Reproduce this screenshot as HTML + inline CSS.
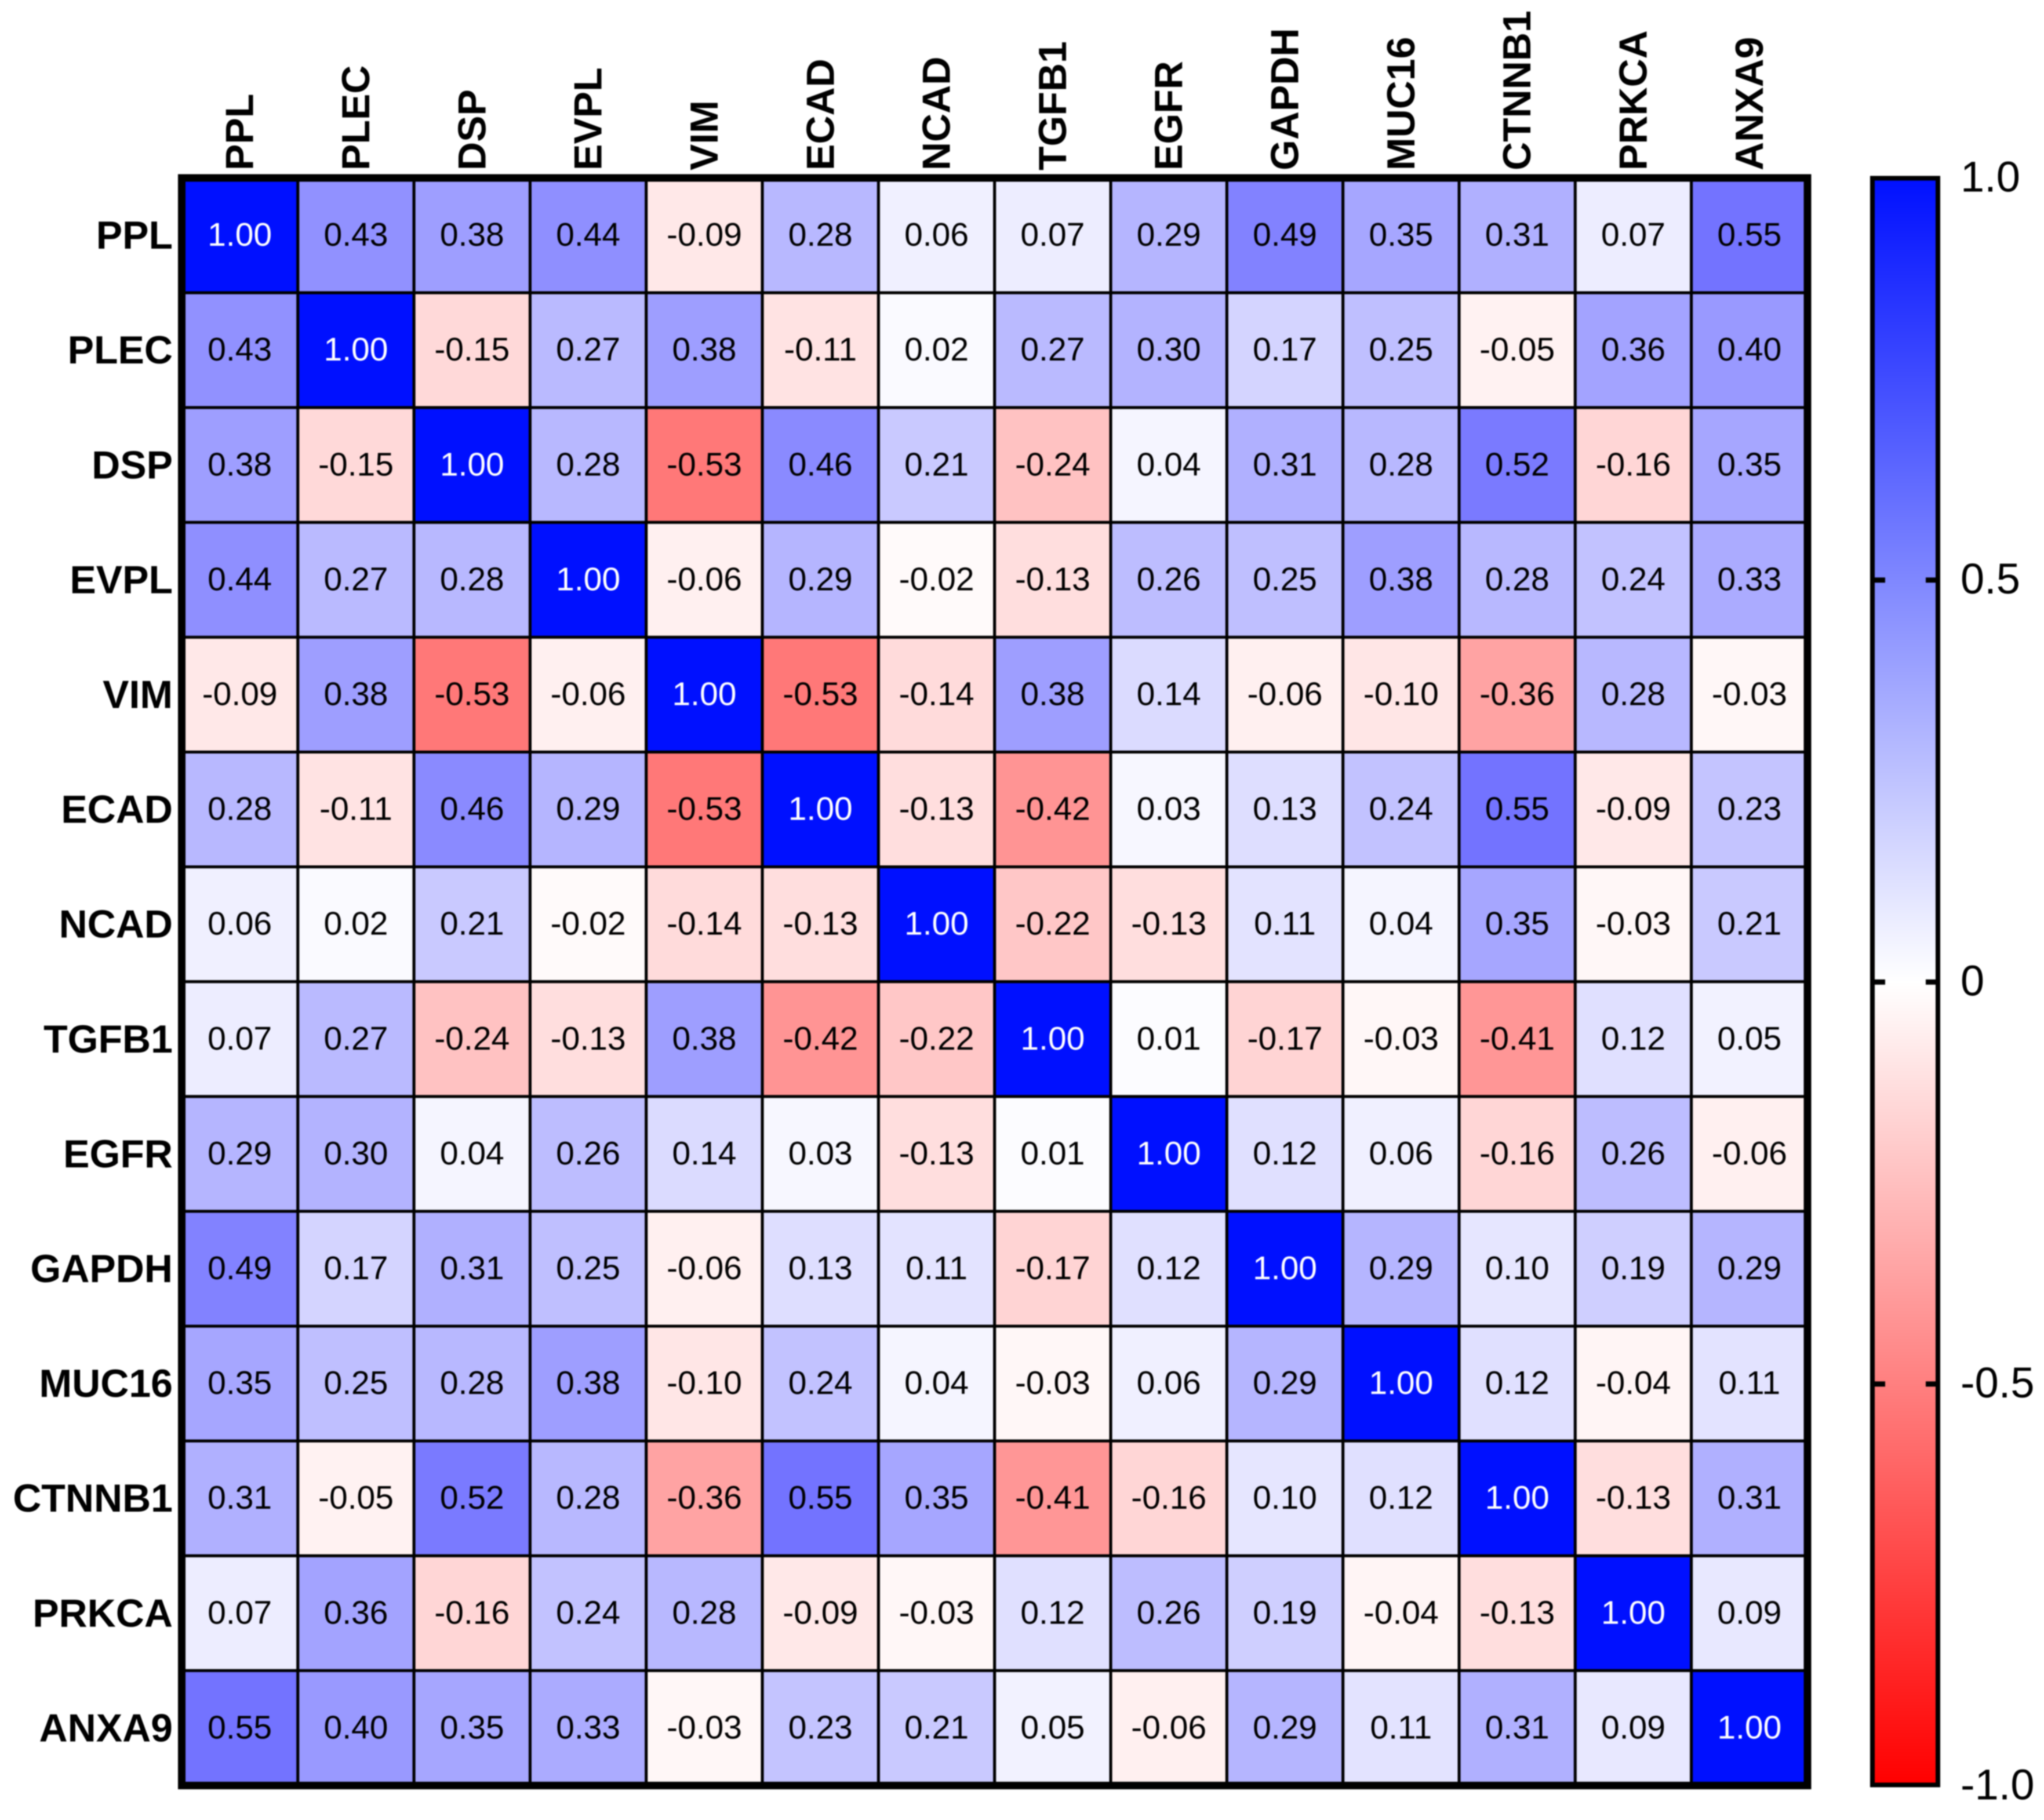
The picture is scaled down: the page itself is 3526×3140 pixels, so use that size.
<!DOCTYPE html>
<html lang="en">
<head>
<meta charset="utf-8">
<title>Gene correlation heatmap</title>
<style>
  html, body { margin: 0; padding: 0; background: #ffffff; overflow: hidden; }
  svg { display: block; filter: blur(1px); }
  text { font-family: "Liberation Sans", Arial, sans-serif; }
</style>
</head>
<body>
<svg id="chart" xmlns="http://www.w3.org/2000/svg" width="3526" height="3140" viewBox="0 0 3526 3140">
  <defs>
    <linearGradient id="colorbar-gradient" gradientUnits="userSpaceOnUse" x1="0" y1="307" x2="0" y2="3081"></linearGradient>
  </defs>
  <rect x="0" y="0" width="3526" height="3140" fill="#ffffff"></rect>
  <g id="cells"></g>
  <g id="values"></g>
  <rect x="313.5" y="307" width="2804.5" height="2773.5" fill="none" stroke="#000000" stroke-width="13"></rect>
  <g id="row-labels"></g>
  <g id="col-labels"></g>
  <g id="colorbar"></g>
</svg>
<script>
const genes = ['PPL','PLEC','DSP','EVPL','VIM','ECAD','NCAD','TGFB1','EGFR','GAPDH','MUC16','CTNNB1','PRKCA','ANXA9'];

const rowPPL    = [1.00,0.43,0.38,0.44,-0.09,0.28,0.06,0.07,0.29,0.49,0.35,0.31,0.07,0.55];
const rowPLEC   = [0.43,1.00,-0.15,0.27,0.38,-0.11,0.02,0.27,0.30,0.17,0.25,-0.05,0.36,0.40];
const rowDSP    = [0.38,-0.15,1.00,0.28,-0.53,0.46,0.21,-0.24,0.04,0.31,0.28,0.52,-0.16,0.35];
const rowEVPL   = [0.44,0.27,0.28,1.00,-0.06,0.29,-0.02,-0.13,0.26,0.25,0.38,0.28,0.24,0.33];
const rowVIM    = [-0.09,0.38,-0.53,-0.06,1.00,-0.53,-0.14,0.38,0.14,-0.06,-0.10,-0.36,0.28,-0.03];
const rowECAD   = [0.28,-0.11,0.46,0.29,-0.53,1.00,-0.13,-0.42,0.03,0.13,0.24,0.55,-0.09,0.23];
const rowNCAD   = [0.06,0.02,0.21,-0.02,-0.14,-0.13,1.00,-0.22,-0.13,0.11,0.04,0.35,-0.03,0.21];
const rowTGFB1  = [0.07,0.27,-0.24,-0.13,0.38,-0.42,-0.22,1.00,0.01,-0.17,-0.03,-0.41,0.12,0.05];
const rowEGFR   = [0.29,0.30,0.04,0.26,0.14,0.03,-0.13,0.01,1.00,0.12,0.06,-0.16,0.26,-0.06];
const rowGAPDH  = [0.49,0.17,0.31,0.25,-0.06,0.13,0.11,-0.17,0.12,1.00,0.29,0.10,0.19,0.29];
const rowMUC16  = [0.35,0.25,0.28,0.38,-0.10,0.24,0.04,-0.03,0.06,0.29,1.00,0.12,-0.04,0.11];
const rowCTNNB1 = [0.31,-0.05,0.52,0.28,-0.36,0.55,0.35,-0.41,-0.16,0.10,0.12,1.00,-0.13,0.31];
const rowPRKCA  = [0.07,0.36,-0.16,0.24,0.28,-0.09,-0.03,0.12,0.26,0.19,-0.04,-0.13,1.00,0.09];
const rowANXA9  = [0.55,0.40,0.35,0.33,-0.03,0.23,0.21,0.05,-0.06,0.29,0.11,0.31,0.09,1.00];

const matrix = [rowPPL,rowPLEC,rowDSP,rowEVPL,rowVIM,rowECAD,rowNCAD,rowTGFB1,rowEGFR,rowGAPDH,rowMUC16,rowCTNNB1,rowPRKCA,rowANXA9];

const colorbarTicks = [1, 0.5, 0, -0.5, -1];
const colorbarTickLabels = ['1.0', '0.5', '0', '-0.5', '-1.0'];
const colorbarInnerTicks = [0.5, 0, -0.5];
const colorbarStops = [1, 0, -1];

const SVG_NS = 'http://www.w3.org/2000/svg';

function xScale(i) { return 313.5 + 200.32 * i; }
function yScale(i) { return 307 + 198.1 * i; }
function colorbarY(v) { return 1694.3 - 1387 * v; }

function colorFor(v) {
  const a = Math.min(1, Math.abs(v));
  const fade = Math.round(255 * (1 - a));
  if (v >= 0) {
    const g = v >= 1 ? 16 : fade;
    return 'rgb(' + fade + ',' + g + ',255)';
  }
  return 'rgb(255,' + fade + ',' + fade + ')';
}

function make(tag, attrs, parent) {
  const el = document.createElementNS(SVG_NS, tag);
  Object.keys(attrs).forEach(function (k) { el.setAttribute(k, attrs[k]); });
  parent.appendChild(el);
  return el;
}

const cellsGroup = document.getElementById('cells');
const valuesGroup = document.getElementById('values');
const rowLabelGroup = document.getElementById('row-labels');
const colLabelGroup = document.getElementById('col-labels');
const colorbarGroup = document.getElementById('colorbar');
const gradient = document.getElementById('colorbar-gradient');

matrix.forEach(function (row, r) {
  row.forEach(function (v, c) {
    const cell = make('rect', {
      x: xScale(c), y: yScale(r),
      width: xScale(c + 1) - xScale(c), height: yScale(r + 1) - yScale(r),
      fill: colorFor(v), stroke: '#000000', 'stroke-width': 5
    }, cellsGroup);
    
    

    const label = make('text', {
      x: (xScale(c) + xScale(c + 1)) / 2, y: (yScale(r) + yScale(r + 1)) / 2 + 18,
      'text-anchor': 'middle', 'font-size': 57, fill: v >= 0.9 ? '#ffffff' : '#000000'
    }, valuesGroup);
    label.textContent = v.toFixed(2);
    
    
  });
});

genes.forEach(function (gene, i) {
  const rowLabel = make('text', {
    x: 298, y: (yScale(i) + yScale(i + 1)) / 2 + 23,
    'text-anchor': 'end', 'font-size': 68, 'font-weight': 'bold', fill: '#000000'
  }, rowLabelGroup);
  rowLabel.textContent = gene;
  
  

  const cx = (xScale(i) + xScale(i + 1)) / 2 + 23;
  const colLabel = make('text', {
    x: 0, y: 0, transform: 'translate(' + cx + ',294) rotate(-90)',
    'text-anchor': 'start', 'font-size': 68, 'font-weight': 'bold', fill: '#000000'
  }, colLabelGroup);
  colLabel.textContent = gene;
  
  
});

colorbarStops.forEach(function (v) {
  make('stop', {
    offset: (colorbarY(v) - colorbarY(1)) / (colorbarY(-1) - colorbarY(1)),
    'stop-color': colorFor(v)
  }, gradient);
});

const bar = make('rect', {
  x: 3230, y: 307.5, width: 113, height: 2772,
  fill: 'url(#colorbar-gradient)', stroke: '#000000', 'stroke-width': 8
}, colorbarGroup);



colorbarInnerTicks.forEach(function (v) {
  const left = make('rect', { x: 3232, y: colorbarY(v) - 4.5, width: 20, height: 9, fill: '#000000' }, colorbarGroup);
  
  
  const right = make('rect', { x: 3322, y: colorbarY(v) - 4.5, width: 20, height: 9, fill: '#000000' }, colorbarGroup);
  
  
});

colorbarTicks.forEach(function (v, i) {
  const tick = make('text', {
    x: 3382, y: colorbarY(v) + 23, 'font-size': 74, fill: '#000000'
  }, colorbarGroup);
  tick.textContent = colorbarTickLabels[i];
  
  
});
</script>
</body>
</html>
